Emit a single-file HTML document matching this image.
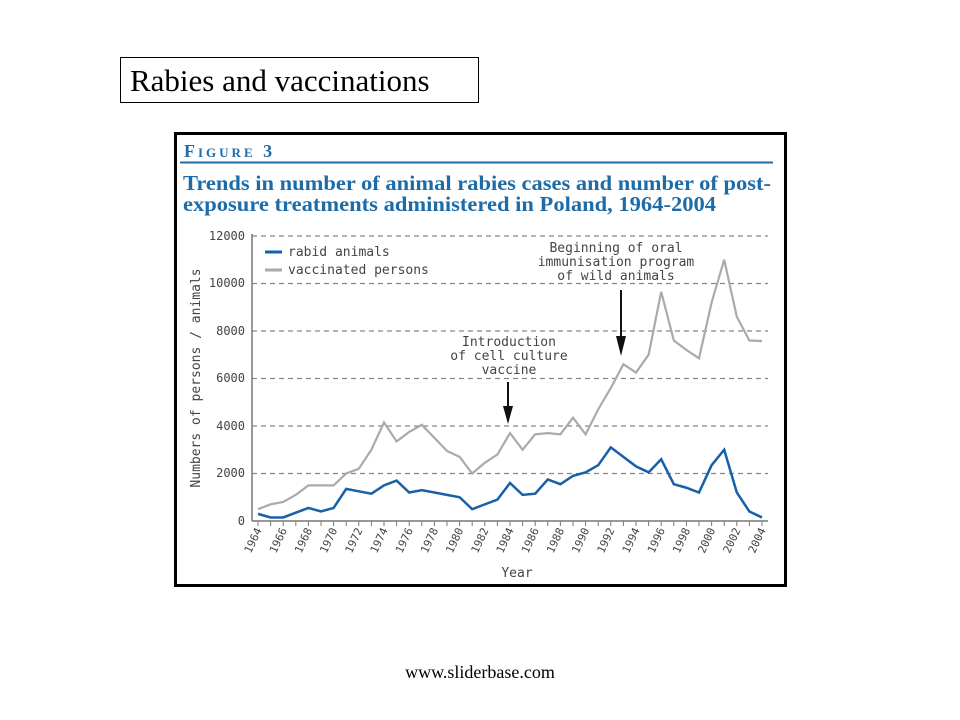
<!DOCTYPE html>
<html><head><style>
body{margin:0;width:960px;height:720px;background:#fff;position:relative;overflow:hidden}
.tb{position:absolute;left:120px;top:57px;width:359px;height:46px;border:1px solid #000;box-sizing:border-box;font:31px "Liberation Serif",serif;padding:5px 0 0 9px;white-space:nowrap}
.ft{position:absolute;left:0;width:960px;top:662px;text-align:center;font:18px "Liberation Serif",serif}
</style></head><body>
<div class="tb">Rabies and vaccinations</div>
<svg style="position:absolute;left:0;top:0" width="960" height="720">
<rect x="175.5" y="133.5" width="610" height="452" fill="#fff" stroke="#000" stroke-width="3"/>
<text x="184" y="157" fill="#1d6ca8" font-family="Liberation Serif,serif" font-weight="bold" font-size="18" letter-spacing="3">F<tspan font-size="13">IGURE</tspan> 3</text>
<line x1="180" y1="162.5" x2="773" y2="162.5" stroke="#1d6ca8" stroke-width="2"/>
<g fill="#1d6ca8" font-family="Liberation Serif,serif" font-weight="bold" font-size="21.5">
<text x="183" y="190" textLength="588" lengthAdjust="spacingAndGlyphs">Trends in number of animal rabies cases and number of post-</text>
<text x="183" y="211" textLength="533" lengthAdjust="spacingAndGlyphs">exposure treatments administered in Poland, 1964-2004</text></g>
<g stroke="#888" stroke-dasharray="5,4" stroke-width="1.3">
<line x1="252" y1="236" x2="768" y2="236"/><line x1="252" y1="283.5" x2="768" y2="283.5"/>
<line x1="252" y1="331" x2="768" y2="331"/><line x1="252" y1="378.5" x2="768" y2="378.5"/>
<line x1="252" y1="426" x2="768" y2="426"/><line x1="252" y1="473.5" x2="768" y2="473.5"/>
</g>
<line x1="252" y1="234" x2="252" y2="521" stroke="#777" stroke-width="1.5"/>
<line x1="252" y1="521" x2="768" y2="521" stroke="#777" stroke-width="1.5"/>
<g id="ticks" stroke="#777" stroke-width="1"></g>
<g font-family="DejaVu Sans Mono,Liberation Mono,monospace" font-size="12" fill="#444" text-anchor="end">
<text x="245" y="240">12000</text><text x="245" y="287">10000</text><text x="245" y="335">8000</text>
<text x="245" y="382">6000</text><text x="245" y="430">4000</text><text x="245" y="477">2000</text><text x="245" y="525">0</text>
</g>
<g id="xl" font-family="DejaVu Sans Mono,Liberation Mono,monospace" font-size="11" fill="#444" text-anchor="end"></g>
<text x="517" y="577" font-family="DejaVu Sans Mono,monospace" font-size="13" fill="#444" text-anchor="middle">Year</text>
<text transform="translate(200,378) rotate(-90)" font-family="DejaVu Sans Mono,monospace" font-size="13" fill="#444" text-anchor="middle">Numbers of persons / animals</text>
<line x1="265" y1="252" x2="282" y2="252" stroke="#1760a8" stroke-width="3"/>
<line x1="265" y1="270" x2="282" y2="270" stroke="#aaa" stroke-width="3"/>
<g font-family="DejaVu Sans Mono,monospace" font-size="13" fill="#444">
<text x="288" y="256">rabid animals</text><text x="288" y="274">vaccinated persons</text>
<text x="616" y="252" text-anchor="middle">Beginning of oral</text>
<text x="616" y="266" text-anchor="middle">immunisation program</text>
<text x="616" y="280" text-anchor="middle">of wild animals</text>
<text x="509" y="346" text-anchor="middle">Introduction</text>
<text x="509" y="360" text-anchor="middle">of cell culture</text>
<text x="509" y="374" text-anchor="middle">vaccine</text>
</g>
<line x1="621" y1="290" x2="621" y2="340" stroke="#111" stroke-width="2"/>
<polygon points="616,336 626,336 621,356" fill="#111"/>
<line x1="508" y1="382" x2="508" y2="410" stroke="#111" stroke-width="2"/>
<polygon points="503,406 513,406 508,424" fill="#111"/>
<polyline id="vac" fill="none" stroke="#aaa" stroke-width="2.2"/>
<polyline id="rab" fill="none" stroke="#1760a8" stroke-width="2.5"/>
</svg>
<div class="ft">www.sliderbase.com</div>
<script>
var v=[500,700,800,1100,1500,1500,1500,2000,2200,3000,4150,3350,3750,4050,3500,2950,2700,2000,2450,2800,3700,3000,3650,3700,3650,4350,3650,4700,5600,6600,6250,7000,9650,7600,7200,6850,9200,11000,8600,7600,7580];
var r=[300,150,150,350,550,400,550,1350,1250,1150,1500,1700,1200,1300,1200,1100,1000,500,700,900,1600,1100,1150,1750,1550,1900,2050,2350,3100,2700,2300,2050,2600,1550,1400,1200,2350,3000,1200,400,150];
function X(i){return 258+i*12.6}function Y(d){return 521-d*285/12000}
document.getElementById('vac').setAttribute('points',v.map((d,i)=>X(i)+','+Y(d)).join(' '));
document.getElementById('rab').setAttribute('points',r.map((d,i)=>X(i)+','+Y(d)).join(' '));
var t='',l='';for(var i=0;i<41;i++){t+='<line x1="'+X(i)+'" y1="521" x2="'+X(i)+'" y2="526"/>';
if(i%2==0)l+='<text transform="translate('+(X(i)+4)+',530) rotate(-65)">'+(1964+i)+'</text>';}
document.getElementById('ticks').innerHTML=t;document.getElementById('xl').innerHTML=l;
</script>
</body></html>
